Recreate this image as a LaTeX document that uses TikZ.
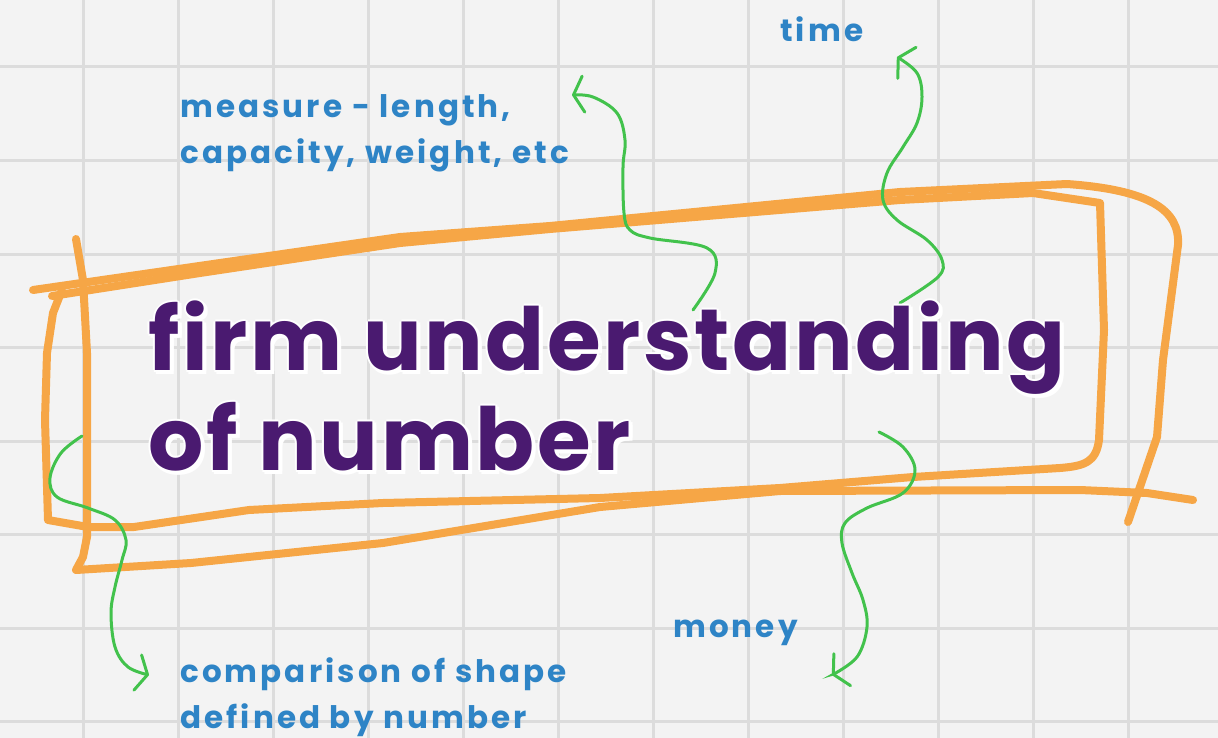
\documentclass[tikz,border=0pt]{standalone}
\usepackage{fontspec}
\setmainfont{Poppins}
\newfontfamily\labelfont{Poppins}[LetterSpace=10]
\newfontfamily\titlefont{Poppins}[LetterSpace=3]
\usetikzlibrary{arrows.meta}
\definecolor{paper}{HTML}{F3F3F3}
\definecolor{gridline}{HTML}{DCDCDC}
\definecolor{marker}{HTML}{F6A646}
\definecolor{arrowgreen}{HTML}{42C24C}
\definecolor{labelblue}{HTML}{2E84C6}
\definecolor{titlepurple}{HTML}{4A1A70}
\begin{document}
\begin{tikzpicture}[x=1pt, y=-1pt,
    grid/.style={draw=gridline, line width=3pt},
    hand/.style={draw=marker, line width=8pt, line cap=round, line join=round},
    wiggle/.style={draw=arrowgreen, line width=3pt, line cap=round,
      -{Straight Barb[length=10pt, width=36pt, line width=3pt, round]}},
    lbl/.style={text=labelblue, font=\labelfont\bfseries\fontsize{31}{46}\selectfont,
      inner sep=0pt, align=left, anchor=base west},
    big/.style={font=\titlefont\bfseries\fontsize{87}{100}\selectfont, inner sep=0pt, anchor=base west}]
  \fill[paper] (0,0) rectangle (1218,738);
  \useasboundingbox (0,0) rectangle (1218,738);
  \foreach \x in {83,178,...,1128} {
    \draw[grid] (\x,0) -- (\x,738);
  }
  \foreach \y in {67,160.5,...,722} {
    \draw[grid] (0,\y) -- (1218,\y);
  }

  \draw[hand] (52,296) -- (200,273) -- (400,243) -- (550,229) -- (900,200) -- (1033,193)
    -- (1100,203) -- (1104,330) -- (1099,440) .. controls (1096,462) and (1085,466) .. (1060,468)
    -- (913,477) -- (780,488) -- (600,498) -- (383,503) -- (249,510) -- (134,527) -- (88,527)
    -- (48,520) -- (45,420) -- (47,353) -- (53,313) -- (62,290);
  \draw[hand] (33,290) -- (400,237) -- (550,226) -- (900,192) -- (1067,184)
    .. controls (1150,190) and (1180,210) .. (1178,245) -- (1163,360) -- (1157,437) -- (1128,522);
  \draw[hand] (76,239) -- (83,280) -- (87,353) -- (87,537) -- (83,557) -- (76,570) -- (191,563)
    -- (383,543) -- (600,507) -- (780,491) -- (1080,490) -- (1147,493) -- (1193,500);

  \coordinate (measurefoot) at (693,310);
  \coordinate (measuretip) at (572,95);
  \coordinate (timefoot) at (900,303);
  \coordinate (timetip) at (897,57);
  \coordinate (moneyfoot) at (879,432);
  \coordinate (moneytip) at (832,675);
  \coordinate (shapefoot) at (82,436);
  \coordinate (shapetip) at (149,675);
  \draw[wiggle] plot[smooth, tension=0.6] coordinates {(measurefoot) (715,273) (707,248) (650,238)
    (630,230) (624,213) (623,167) (625,140) (617,113) (593,97) (measuretip)};
  \draw[wiggle] plot[smooth, tension=0.6] coordinates {(timefoot) (938,277) (942,260) (927,240)
    (897,220) (883,200) (887,173) (903,147) (917,123) (922,97) (917,73) (timetip)};
  \draw[wiggle] plot[smooth, tension=0.6] coordinates {(moneyfoot) (903,447) (915,470) (903,493)
    (867,508) (845,523) (842,543) (852,573) (863,600) (867,627) (857,657) (moneytip)};
  \draw[wiggle] plot[smooth, tension=0.6] coordinates {(shapefoot) (61,453) (50,478) (57,497)
    (88,508) (115,520) (126,540) (122,560) (115,587) (111,613) (115,647) (128,667) (shapetip)};

  \foreach \dx/\dy [count=\i] in {-2/0, 2/0, 0/-2, -1/2, 2/-1, 3/3, 4/4, 1/4, 4/1} {
    \node[big, text=white] (halotop\i) at (148+\dx,370+\dy) {firm understanding};
    \node[big, text=white] (halobottom\i) at (148+\dx,470+\dy) {of number};
  }
  \node[big, text=titlepurple] (firm) at (148,370) {firm understanding};
  \node[big, text=titlepurple] (ofnumber) at (148,470) {of number};

  \node[lbl] (measure) at (180,164) {measure - length,\\capacity, weight, etc};
  \node[lbl] (time) at (780,42) {time};
  \node[lbl] (money) at (673,637) {money};
  \node[lbl] (shape) at (180,728) {comparison of shape\\defined by number};
\end{tikzpicture}
\end{document}
